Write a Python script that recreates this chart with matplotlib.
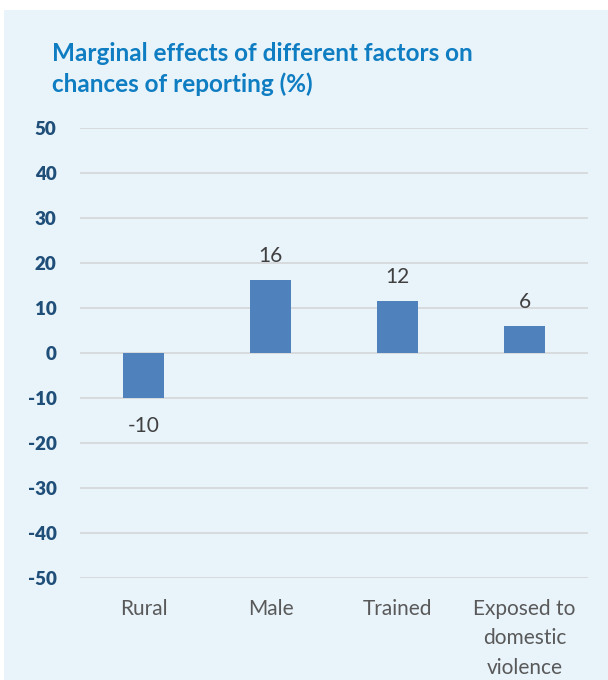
import matplotlib
matplotlib.use("Agg")
import matplotlib.pyplot as plt
from matplotlib.patches import Rectangle

categories = ["Rural", "Male", "Trained", "Exposed to\ndomestic\nviolence"]
values = [-10, 16.2, 11.6, 6]
labels = ["-10", "16", "12", "6"]
yticks = [-50, -40, -30, -20, -10, 0, 10, 20, 30, 40, 50]

plt.rcParams['font.family'] = ['Lato', 'DejaVu Sans']

W, H = 608, 680
fig = plt.figure(figsize=(W/100, H/100), dpi=100)
fig.patch.set_facecolor("white")
fig.patches.append(Rectangle((4/W, 0), 1, 1 - 10/H, transform=fig.transFigure,
                             facecolor="#E8F3FA", edgecolor="none", zorder=-5))

fig.text(52/W, 1 - 69/H, "Marginal effects of different factors on\nchances of reporting (%)",
         color="#0F7DC2", fontsize=17.5, fontweight="bold", va="center", ha="left",
         linespacing=1.35)

ax = fig.add_axes([80/W, 1 - 578/H, 508/W, 450/H])
ax.set_zorder(2)
ax.set_facecolor("none")
x = range(len(categories))
ax.bar(x, values, width=0.315, color="#4F81BD", zorder=3)
ax.set_xlim(-0.5, len(categories) - 0.5)
ax.set_ylim(-50, 50)
ax.set_yticks(yticks)
ax.set_yticklabels([str(t) for t in yticks], fontsize=13.5, fontweight="heavy", color="#1F4E79")
ax.yaxis.grid(True, color="#D6D9DC", linewidth=1.3, zorder=0)
ax.tick_params(axis="y", length=0, pad=17)
ax.tick_params(axis="x", length=0, pad=15)
ax.set_xticks(list(x))
ax.set_xticklabels(categories, fontsize=15, color="#595959", linespacing=1.6, va="top")
for s in ax.spines.values():
    s.set_visible(False)

for i, (v, lab) in enumerate(zip(values, labels)):
    if v >= 0:
        ax.annotate(lab, (i, v), xytext=(0, 10), textcoords="offset points",
                    ha="center", va="bottom", fontsize=15, color="#404040")
    else:
        ax.annotate(lab, (i, v), xytext=(0, -13), textcoords="offset points",
                    ha="center", va="top", fontsize=15, color="#404040")

fig.savefig("out.png", dpi=100, facecolor=fig.get_facecolor())
